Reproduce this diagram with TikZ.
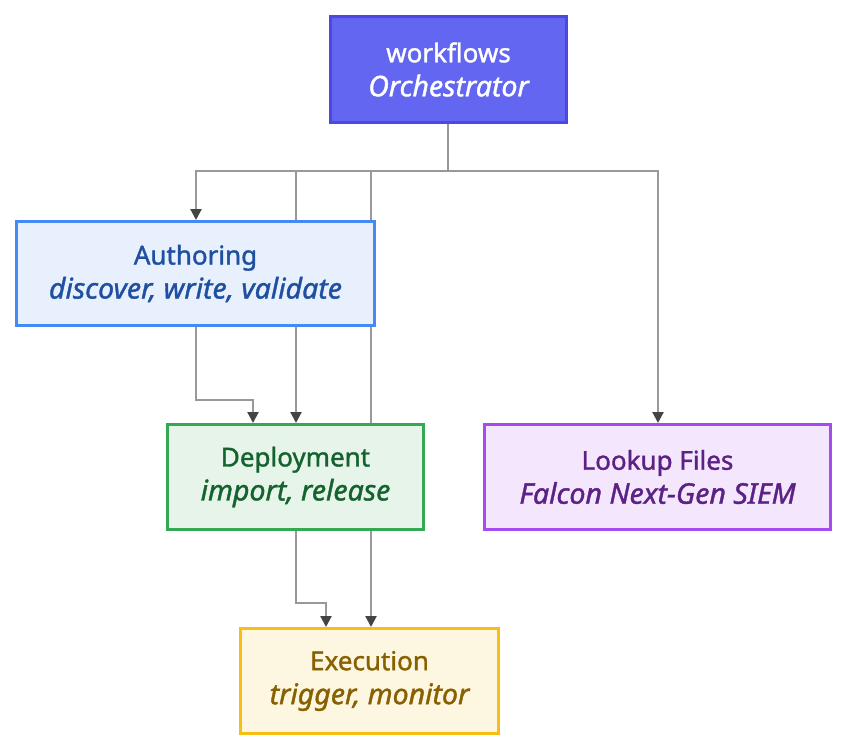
\documentclass[tikz,border=0pt]{standalone}
\usepackage{fontspec}
\setmainfont{Noto Sans}[FakeBold=1.3]
\usetikzlibrary{arrows.meta,backgrounds}
\definecolor{wfill}{HTML}{6366F1}
\definecolor{wdraw}{HTML}{4F46E5}
\definecolor{afill}{HTML}{E8F0FD}
\definecolor{adraw}{HTML}{4589F5}
\definecolor{atext}{HTML}{1E4FA0}
\definecolor{dfill}{HTML}{E6F4EA}
\definecolor{ddraw}{HTML}{34A853}
\definecolor{dtext}{HTML}{14622E}
\definecolor{lfill}{HTML}{F3E6FD}
\definecolor{ldraw}{HTML}{A64BF0}
\definecolor{ltext}{HTML}{5B2184}
\definecolor{efill}{HTML}{FDF6E0}
\definecolor{edraw}{HTML}{F8BE14}
\definecolor{etext}{HTML}{886000}
\definecolor{edge}{HTML}{999999}
\definecolor{tip}{HTML}{444444}
\newcommand{\subline}[1]{{\fontsize{28.5}{34}\selectfont\itshape #1}}
\tikzset{
  box/.style={rectangle, line width=3pt, align=center, inner sep=0pt,
    font=\fontsize{26}{34}\selectfont},
  conn/.style={draw=edge, line width=2.2pt, -{Triangle[length=11pt,width=11pt,color=tip]}},
  plain/.style={draw=edge, line width=2.2pt},
}
\begin{document}
\begin{tikzpicture}[x=1pt,y=-1pt]
\useasboundingbox (0,0) rectangle (848,752);
\node[box, fill=wfill, draw=wdraw, text=white, minimum width=236pt, minimum height=106pt] (W) at (448.5,69.5) {workflows\\\subline{Orchestrator}};
\node[box, fill=afill, draw=adraw, text=atext, minimum width=358pt, minimum height=104pt] (A) at (195.5,273.5) {Authoring\\\subline{discover, write, validate}};
\node[box, fill=dfill, draw=ddraw, text=dtext, minimum width=256pt, minimum height=105pt] (D) at (295.5,477) {Deployment\\\subline{import, release}};
\node[box, fill=lfill, draw=ldraw, text=ltext, minimum width=346pt, minimum height=105pt] (L) at (657.5,477) {Lookup Files\\\subline{Falcon Next-Gen SIEM}};
\node[box, fill=efill, draw=edraw, text=etext, minimum width=258pt, minimum height=105pt] (E) at (369.5,681) {Execution\\\subline{trigger, monitor}};
\coordinate (j) at (448,171);
\coordinate (ad) at (253,400);
\coordinate (de) at (326,603);
\begin{scope}[on background layer]
\fill[white] (0,0) rectangle (848,752);
\draw[plain] ([xshift=-0.5pt]W.south) -- (j);
\draw[conn] (j) -| ([xshift=0.5pt]A.north);
\draw[conn] (j) -| ([xshift=0.5pt]L.north);
\draw[conn] (j) -| ([xshift=0.5pt]D.north);
\draw[conn] (j) -| ([xshift=1.5pt]E.north);
\draw[conn] ([xshift=0.5pt]A.south) |- (ad) -- (ad |- D.north);
\draw[conn] ([xshift=0.5pt]D.south) |- (de) -- (de |- E.north);
\end{scope}
\end{tikzpicture}
\end{document}
